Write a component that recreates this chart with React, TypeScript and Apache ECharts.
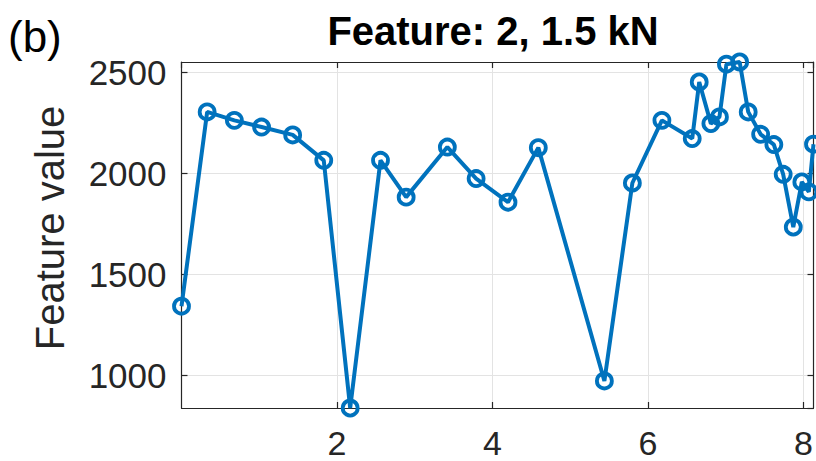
import React, { useEffect, useRef } from "react";
import * as echarts from "echarts";

const xValues = [0, 0.33, 0.68, 1.03, 1.43, 1.83, 2.17, 2.56, 2.89, 3.42, 3.79, 4.2, 4.59, 5.44, 5.8, 6.18, 6.57, 6.66, 6.81, 6.92, 7.01, 7.18, 7.29, 7.45, 7.62, 7.74, 7.87, 7.98, 8.07, 8.13];
const yValues = [1342, 2304, 2262, 2229, 2190, 2064, 838, 2064, 1882, 2130, 1974, 1857, 2127, 972, 1952, 2262, 2172, 2452, 2246, 2279, 2540, 2551, 2304, 2193, 2142, 1995, 1734, 1957, 1908, 2144];

const titleText = "Feature: 2, 1.5 kN";
const yAxisName = "Feature value";
const panelLabel = "(b)";

const AXIS_COLOR = "#262626";
const LINE_COLOR = "#0072BD";
const FONT = "Liberation Sans, Arial, Helvetica, sans-serif";

export default function App() {
  const ref = useRef<HTMLDivElement>(null);

  useEffect(() => {
    if (!ref.current) return;
    const chart = echarts.init(ref.current, null, { renderer: "svg" });
    const xMin = Math.min(...xValues);
    const xMax = Math.max(...xValues);
    const yMin = Math.min(...yValues);
    const yMax = Math.max(...yValues);

    const baseX = {
      type: "value" as const,
      min: xMin,
      max: xMax,
      splitNumber: 4,
      axisLine: { show: true, onZero: false, lineStyle: { color: AXIS_COLOR, width: 1.2 } },
      axisTick: { show: true, inside: true, length: 6, lineStyle: { color: AXIS_COLOR, width: 1.2 } },
    };
    const baseY = {
      type: "value" as const,
      min: yMin,
      max: yMax,
      splitNumber: 3,
      axisLine: { show: true, onZero: false, lineStyle: { color: AXIS_COLOR, width: 1.2 } },
      axisTick: { show: true, inside: true, length: 6, lineStyle: { color: AXIS_COLOR, width: 1.2 } },
    };

    chart.setOption({
      animation: false,
      backgroundColor: "#ffffff",
      grid: { left: 181.5, right: 2.5, top: 62, bottom: 53, containLabel: false },
      xAxis: [
        {
          ...baseX,
          position: "bottom",
          axisLabel: {
            show: true,
            showMinLabel: false,
            showMaxLabel: false,
            color: AXIS_COLOR,
            fontFamily: FONT,
            fontSize: 34,
            lineHeight: 26,
            margin: 22,
            formatter: (v: number) => String(v),
          },
          splitLine: { show: true, lineStyle: { color: "#e3e3e3", width: 1 } },
        },
        {
          ...baseX,
          position: "top",
          axisLabel: { show: false },
          splitLine: { show: false },
        },
      ],
      yAxis: [
        {
          ...baseY,
          position: "left",
          axisLabel: {
            show: true,
            showMinLabel: false,
            showMaxLabel: false,
            color: AXIS_COLOR,
            fontFamily: FONT,
            fontSize: 35,
            margin: 15,
            formatter: (v: number) => String(v),
          },
          splitLine: { show: true, lineStyle: { color: "#e3e3e3", width: 1 } },
        },
        {
          ...baseY,
          position: "right",
          axisLabel: { show: false },
          splitLine: { show: false },
        },
      ],
      series: [
        {
          type: "line",
          xAxisIndex: 0,
          yAxisIndex: 0,
          data: xValues.map((x, i) => [x, yValues[i]]),
          clip: false,
          symbol: "circle",
          symbolSize: 15,
          showAllSymbol: true,
          lineStyle: { color: LINE_COLOR, width: 4 },
          itemStyle: { color: "rgba(0,0,0,0)", borderColor: LINE_COLOR, borderWidth: 3.8 },
          emphasis: { disabled: true },
          z: 5,
        },
      ],
      graphic: [
        {
          type: "text",
          x: 493,
          y: 31,
          style: {
            text: titleText,
            fontFamily: FONT,
            fontWeight: "bold",
            fontSize: 40,
            fill: "#000000",
            align: "center",
            verticalAlign: "middle",
          },
        },
        {
          type: "text",
          x: 50,
          y: 228,
          rotation: Math.PI / 2,
          style: {
            text: yAxisName,
            fontFamily: FONT,
            fontSize: 40,
            fill: AXIS_COLOR,
            align: "center",
            verticalAlign: "middle",
          },
        },
        {
          type: "text",
          x: 8,
          y: 36,
          style: {
            text: panelLabel,
            fontFamily: FONT,
            fontSize: 44,
            fill: "#000000",
            align: "left",
            verticalAlign: "middle",
          },
        },
      ],
    });

    return () => chart.dispose();
  }, []);

  return (
    <div
      ref={ref}
      style={{ position: "fixed", left: 0, top: 0, width: 816, height: 461, background: "#fff" }}
    />
  );
}
